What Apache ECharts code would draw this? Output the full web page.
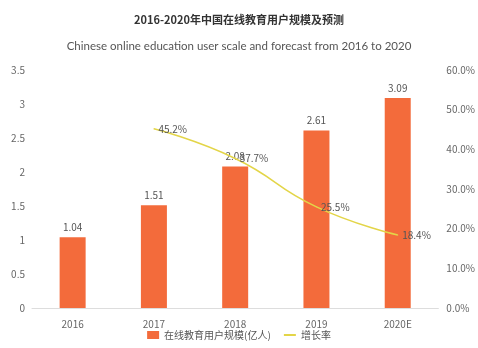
<!DOCTYPE html>
<html>
<head>
<meta charset="utf-8">
<script src="https://cdn.jsdelivr.net/npm/echarts@6/dist/echarts.min.js"></script>
<style>
  html, body { margin: 0; padding: 0; background: #fff; }
  #chart { width: 478px; height: 348px; }
</style>
</head>
<body>
<div id="chart"></div>
<script>
// 数据
var years = ['2016', '2017', '2018', '2019', '2020E'];
var users = [1.04, 1.51, 2.08, 2.61, 3.09];
var growth = ['-', 45.2, 37.7, 25.5, 18.4];

var font = '"Noto Sans CJK SC", "Noto Sans", sans-serif';

var option = {
    backgroundColor: '#fff',
    title: [
        {
            text: '2016-2020年中国在线教育用户规模及预测',
            left: 'center',
            top: 9,
            textStyle: { fontSize: 11, fontWeight: 'bold', color: '#333', fontFamily: font }
        },
        {
            text: 'Chinese online education user scale and forecast from 2016 to 2020',
            left: 'center',
            top: 35,
            textStyle: { fontSize: 11.5, fontWeight: 'normal', color: '#555', fontFamily: 'Lato, sans-serif' }
        }
    ],
    legend: {
        bottom: 3,
        left: 'center',
        itemWidth: 12,
        itemHeight: 8,
        itemGap: 12,
        textStyle: { fontSize: 10, color: '#555', fontFamily: font },
        data: [
            { name: '在线教育用户规模(亿人)', icon: 'rect' },
            { name: '增长率', itemStyle: { opacity: 0 } }
        ]
    },
    grid: { left: 32, right: 39, top: 70, bottom: 40 },
    xAxis: {
        type: 'category',
        data: years,
        axisLine: { lineStyle: { color: '#ddd' } },
        axisTick: { show: false },
        axisLabel: { color: '#666', fontSize: 10, fontFamily: font, margin: 11 }
    },
    yAxis: [
        {
            type: 'value',
            min: 0, max: 3.5, interval: 0.5,
            splitLine: { show: false },
            axisLine: { show: false },
            axisLabel: { color: '#666', fontSize: 10, fontFamily: font, margin: 7 }
        },
        {
            type: 'value',
            min: 0, max: 60, interval: 10,
            splitLine: { show: false },
            axisLine: { show: false },
            axisLabel: {
                color: '#666', fontSize: 10, fontFamily: font, margin: 8,
                formatter: function (v) { return v.toFixed(1) + '%'; }
            }
        }
    ],
    series: [
        {
            name: '在线教育用户规模(亿人)',
            type: 'bar',
            data: users,
            barWidth: 26,
            itemStyle: { color: '#f36b3b' },
            label: { show: true, position: 'top', distance: 5, color: '#555', fontSize: 10, fontFamily: font }
        },
        {
            name: '增长率',
            type: 'line',
            yAxisIndex: 1,
            data: growth,
            smooth: true,
            symbol: 'circle',
            symbolSize: 1,
            lineStyle: { color: '#e3d548', width: 1.5 },
            itemStyle: { color: '#e3d548' },
            label: {
                show: true, position: 'right', distance: 4, color: '#555', fontSize: 10, fontFamily: font,
                formatter: function (p) { return p.value.toFixed(1) + '%'; }
            }
        }
    ]
};

var myChart = echarts.init(document.getElementById('chart'));
myChart.setOption(option);
</script>
</body>
</html>
